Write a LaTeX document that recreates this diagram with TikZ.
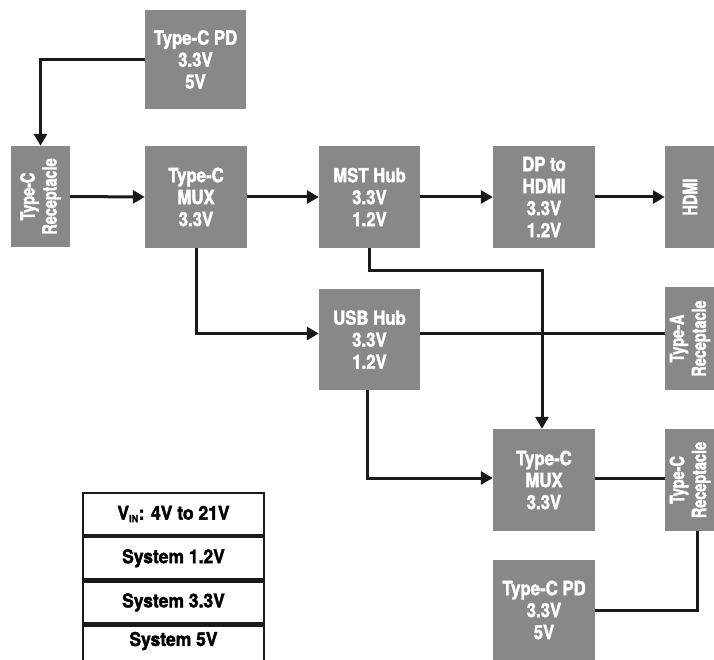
\documentclass[tikz,border=0pt]{standalone}
\usepackage{fontspec}
\setmainfont{TeX Gyre Heros}[FakeStretch=0.86, BoldFeatures={FakeBold=2}]
\newfontfamily\rotfont{TeX Gyre Heros}[FakeStretch=0.74, BoldFeatures={FakeBold=2}]
\newfontfamily\legfont{TeX Gyre Heros}[FakeStretch=0.92, BoldFeatures={FakeBold=2}]
\usetikzlibrary{arrows.meta}
\definecolor{boxgray}{RGB}{136,136,136}
\tikzset{
  blk/.style={fill=boxgray, draw=none, inner sep=0pt, text=white,
    font=\fontsize{19.5}{22}\selectfont\bfseries, align=center},
  rtext/.style={text=white, rotate=90, inner sep=0pt,
    font=\rotfont\fontsize{19.5}{22}\selectfont\bfseries, align=center},
  conn/.style={line width=3pt, draw=black!90},
  arr/.style={conn, -{Triangle[length=12pt,width=13pt]}},
  legrow/.style={draw=black!90, line width=2.2pt, minimum width=181pt, minimum height=42pt,
    inner sep=0pt, font=\legfont\fontsize{19}{20}\selectfont\bfseries}
}
\begin{document}
\begin{tikzpicture}[x=1pt,y=-1pt]
\useasboundingbox (0,0) rectangle (714,660);
% blocks
\node[blk, minimum width=101pt, minimum height=99pt] (pdT) at (195.5,59.5) {Type-C PD\\3.3V\\5V};
\node[blk, minimum width=59pt, minimum height=101pt] (recL) at (40.5,196.5) {};
\node[rtext] (recLt) at (recL) {Type-C\\Receptacle};
\node[blk, minimum width=102pt, minimum height=102pt] (mux1) at (196,197) {Type-C\\MUX\\3.3V};
\node[blk, minimum width=101pt, minimum height=102pt] (mst) at (369.5,197) {MST Hub\\3.3V\\1.2V};
\node[blk, minimum width=102pt, minimum height=102pt] (dp) at (544,197) {DP to\\HDMI\\3.3V\\1.2V};
\node[blk, minimum width=50pt, minimum height=102pt] (hdmi) at (690,197) {};
\node[rtext] (hdmit) at (hdmi) {HDMI};
\node[blk, minimum width=101pt, minimum height=101pt] (usb) at (369.5,339.5) {USB Hub\\3.3V\\1.2V};
\node[blk, minimum width=50pt, minimum height=103pt] (typeA) at (690,338.5) {};
\node[rtext] (typeAt) at (typeA) {Type-A\\Receptacle};
\node[blk, minimum width=102pt, minimum height=102pt] (mux2) at (544,480) {Type-C\\MUX\\3.3V};
\node[blk, minimum width=50pt, minimum height=102pt] (recR) at (690,480) {};
\node[rtext] (recRt) at (recR) {Type-C\\Receptacle};
\node[blk, minimum width=102pt, minimum height=100pt] (pdB) at (544,610) {Type-C PD\\3.3V\\5V};
% connectors
\draw[arr] (pdT.west) -| (recL.north);
\draw[arr] (recL.east) -- (mux1.west);
\draw[arr] (mux1.east) -- (mst.west);
\draw[arr] (mst.east) -- (dp.west);
\draw[arr] (dp.east) -- (hdmi.west);
\draw[arr] (mux1.south) |- ([yshift=6pt]usb.west);
\draw[conn] ([yshift=6pt]usb.east) -- ([yshift=6pt]usb.east -| typeA.west);
\coordinate (mstturn) at (369.5,270);
\draw[arr] (mst.south) -- (mstturn) -| ([xshift=-2pt]mux2.north);
\draw[arr] ([xshift=-2pt]usb.south) |- ([yshift=2pt]mux2.west);
\draw[conn] ([yshift=2pt]mux2.east) -- ([yshift=2pt]mux2.east -| recR.west);
\draw[conn] ([xshift=7pt]recR.south) |- (pdB.east);
% legend
\node[legrow] (l1) at (173.5,514) {V\textsubscript{\fontsize{10}{10}\selectfont IN}: 4V to 21V};
\node[legrow, anchor=north] (l2) at (l1.south) {System 1.2V};
\node[legrow, anchor=north] (l3) at (l2.south) {System 3.3V};
\node[legrow, anchor=north, minimum height=60pt] (l4) at (l3.south) {};
\node[font=\legfont\fontsize{19}{20}\selectfont\bfseries] (l4t) at (173.5,641) {System 5V};
\end{tikzpicture}
\end{document}
